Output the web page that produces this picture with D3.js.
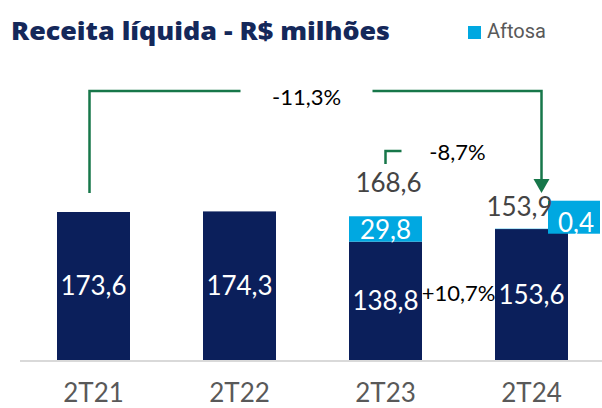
<!DOCTYPE html>
<html>
<head>
<meta charset="utf-8">
<script src="https://cdn.jsdelivr.net/npm/d3@7"></script>
<style>
  body { margin: 0; background: #fff; }
  text { font-family: "Lato", "Roboto", sans-serif; }
</style>
</head>
<body>
<script>
// data
let categories = ["2T21", "2T22", "2T23", "2T24"];
let baseValues = [173.6, 174.3, 138.8, 153.6];
let aftosaValues = [0, 0, 29.8, 0.4];
let totalLabels = [null, null, "168,6", "153,9"];
let baseLabels = ["173,6", "174,3", "138,8", "153,6"];
let aftosaLabels = [null, null, "29,8", "0,4"];
let growthLabels = ["-11,3%", "-8,7%", "+10,7%"];

let width = 602;
let height = 408;
let navy = "#0b1f5b";
let cyan = "#00a8e1";
let green = "#17774a";

let svg = d3.select("body").append("svg")
    .attr("width", width)
    .attr("height", height);

let x = d3.scaleBand()
    .domain(categories)
    .range([20.5, 604.5])
    .paddingInner(0.5)
    .paddingOuter(0.25);

let y = d3.scaleLinear()
    .domain([0, 200])
    .range([360, 189.5]);

let bw = x.bandwidth();
let cx = c => x(c) + bw / 2;

// title + legend
svg.append("text")
    .attr("x", 11)
    .attr("y", 40)
    .attr("font-size", 25)
    .attr("font-weight", 800)
    .attr("fill", "#14285a")
    .attr("textLength", 379)
    .attr("lengthAdjust", "spacingAndGlyphs")
    .style("font-family", "'Open Sans'")
    .text("Receita líquida - R$ milhões");

svg.append("rect")
    .attr("x", 468).attr("y", 26)
    .attr("width", 13).attr("height", 13)
    .attr("fill", cyan);
svg.append("text")
    .attr("x", 487).attr("y", 38)
    .attr("font-size", 20)
    .attr("fill", "#595959")
    .style("font-family", "Roboto")
    .text("Aftosa");

// bars
let rows = categories.map((c, i) => ({
    cat: c, base: baseValues[i], aftosa: aftosaValues[i],
    baseLabel: baseLabels[i], aftosaLabel: aftosaLabels[i], total: totalLabels[i]
}));

svg.selectAll(".base")
    .data(rows)
    .join("rect")
    .attr("class", "base")
    .attr("x", d => x(d.cat))
    .attr("width", bw)
    .attr("y", d => y(d.base))
    .attr("height", d => y(0) - y(d.base))
    .attr("fill", navy);

svg.selectAll(".aftosa")
    .data(rows.filter(d => d.aftosa > 0))
    .join("rect")
    .attr("class", "aftosa")
    .attr("x", d => x(d.cat))
    .attr("width", bw)
    .attr("y", d => y(d.base + d.aftosa))
    .attr("height", d => y(d.base) - y(d.base + d.aftosa))
    .attr("fill", cyan);

// axis line
svg.append("line")
    .attr("x1", 20).attr("x2", 602)
    .attr("y1", y(0) + 1).attr("y2", y(0) + 1)
    .attr("stroke", "#d9d9d9")
    .attr("stroke-width", 2);

svg.selectAll(".xlabel")
    .data(categories)
    .join("text")
    .attr("class", "xlabel")
    .attr("x", d => cx(d))
    .attr("y", 402)
    .attr("text-anchor", "middle")
    .attr("font-size", 26)
    .attr("fill", "#595959")
    .text(d => d);

// value labels in the navy part
svg.selectAll(".baselabel")
    .data(rows)
    .join("text")
    .attr("class", "baselabel")
    .attr("x", d => cx(d.cat))
    .attr("y", d => (y(d.base) + y(0)) / 2 + 9)
    .attr("text-anchor", "middle")
    .attr("font-size", 26)
    .attr("fill", "#fff")
    .text(d => d.baseLabel);

// aftosa label for 2T23 sits inside the segment
let r23 = rows[2];
svg.append("text")
    .attr("x", cx(r23.cat))
    .attr("y", (y(r23.base) + y(r23.base + r23.aftosa)) / 2 + 10)
    .attr("text-anchor", "middle")
    .attr("font-size", 26)
    .attr("fill", "#fff")
    .text(r23.aftosaLabel);

// aftosa label for 2T24 is a callout box next to the bar
let r24 = rows[3];
let boxX = x(r24.cat) + bw - 20;
let boxY = y(r24.base + r24.aftosa) - 28;
svg.append("rect")
    .attr("x", boxX).attr("y", boxY)
    .attr("width", 52).attr("height", 33)
    .attr("fill", cyan);
svg.append("text")
    .attr("x", boxX + 28)
    .attr("y", boxY + 31)
    .attr("text-anchor", "middle")
    .attr("font-size", 26)
    .attr("fill", "#fff")
    .text(r24.aftosaLabel);

// totals
svg.append("text")
    .attr("x", cx(r23.cat) + 3)
    .attr("y", y(r23.base + r23.aftosa) - 24)
    .attr("text-anchor", "middle")
    .attr("font-size", 26)
    .attr("fill", "#444")
    .text(r23.total);
svg.append("text")
    .attr("x", cx(r24.cat) - 12)
    .attr("y", y(r24.base + r24.aftosa) - 13)
    .attr("text-anchor", "middle")
    .attr("font-size", 26)
    .attr("fill", "#444")
    .text(r24.total);

// -11,3% bracket with arrow
let lx = cx("2T21") - 4;
let rx = cx("2T24") + 10;
let topY = 91;
svg.append("path")
    .attr("d", `M${lx},${y(baseValues[0]) - 19} V${topY} H${lx + 151}`)
    .attr("fill", "none")
    .attr("stroke", green)
    .attr("stroke-width", 2.5);
svg.append("path")
    .attr("d", `M${rx - 169},${topY} H${rx} V${180}`)
    .attr("fill", "none")
    .attr("stroke", green)
    .attr("stroke-width", 2.5);
svg.append("path")
    .attr("d", `M${rx - 8},179 L${rx + 8},179 L${rx},193 Z`)
    .attr("fill", green);
svg.append("text")
    .attr("x", (lx + 151 + rx - 169) / 2)
    .attr("y", 105)
    .attr("text-anchor", "middle")
    .attr("font-size", 22)
    .attr("fill", "#000")
    .text(growthLabels[0]);

// -8,7% small bracket
let sx = cx("2T23");
svg.append("path")
    .attr("d", `M${sx},164 V151 H${sx + 16}`)
    .attr("fill", "none")
    .attr("stroke", green)
    .attr("stroke-width", 2.5);
svg.append("text")
    .attr("x", sx + 72)
    .attr("y", 160)
    .attr("text-anchor", "middle")
    .attr("font-size", 22)
    .attr("fill", "#000")
    .text(growthLabels[1]);

// +10,7% between 2T23 and 2T24
svg.append("text")
    .attr("x", (x("2T23") + bw + x("2T24")) / 2)
    .attr("y", 301)
    .attr("text-anchor", "middle")
    .attr("font-size", 22)
    .attr("fill", "#000")
    .text(growthLabels[2]);
</script>
</body>
</html>
